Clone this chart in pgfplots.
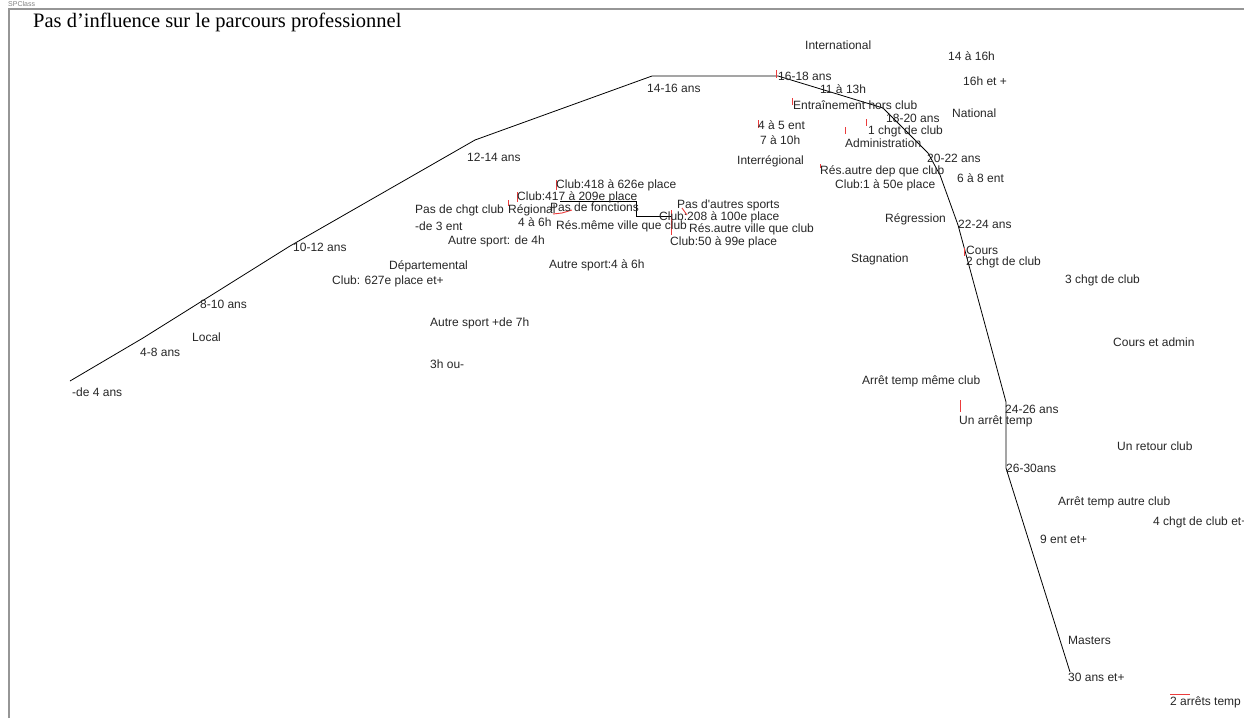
\documentclass[border=0pt]{standalone}
\usepackage{fontspec}
\setmainfont{Liberation Serif}
\newfontfamily\lab{Liberation Sans}
\usepackage{pgfplots}
\pgfplotsset{compat=1.18}
\definecolor{framegray}{RGB}{150,150,150}
\definecolor{tickred}{RGB}{235,60,60}
\begin{document}
\begin{tikzpicture}
\begin{axis}[
  scale only axis, width=1244pt, height=718pt,
  xmin=0, xmax=1244, ymin=0, ymax=718, y dir=reverse,
  axis lines=none, clip=false,
]
% window frame
\addplot[framegray, line width=2pt] coordinates {(9,718) (9,9) (1244,9)};
% age trajectory
\addplot[black, line width=0.8pt] coordinates {
 (70,381) (143,338) (290,246) (475,140) (652,76) (778,76) (883,108)
 (928,153) (940,175) (958,225) (1006,402) (1006,468) (1070,672)};
% small connecting box (club ranks)
\addplot[black, line width=0.7pt] coordinates {(560,201) (636,201) (636,216) (672,216)};
% red point ticks
\addplot[tickred, line width=0.9pt] coordinates {(776,70) (776,78)};
\addplot[tickred, line width=0.9pt] coordinates {(792,98) (792,105)};
\addplot[tickred, line width=0.9pt] coordinates {(758,120) (758,128)};
\addplot[tickred, line width=0.9pt] coordinates {(866,119) (866,126)};
\addplot[tickred, line width=0.9pt] coordinates {(845,127) (845,134)};
\addplot[tickred, line width=0.9pt] coordinates {(820,164) (820,168)};
\addplot[tickred, line width=0.9pt] coordinates {(556,180) (556,190)};
\addplot[tickred, line width=0.9pt] coordinates {(517,192) (517,202)};
\addplot[tickred, line width=0.9pt] coordinates {(508,200) (508,206)};
\addplot[tickred, line width=0.9pt] coordinates {(553,214) (562,213) (572,210)};
\addplot[tickred, line width=0.9pt] coordinates {(671,210) (671,235)};
\addplot[tickred, line width=0.9pt] coordinates {(682,208) (687,215)};
\addplot[tickred, line width=0.9pt] coordinates {(964,248) (964,256)};
\addplot[tickred, line width=0.9pt] coordinates {(960,400) (960,412)};
\addplot[tickred, line width=0.9pt] coordinates {(1170,694) (1190,694)};
% labels
\addplot[draw=none, nodes near coords, point meta=explicit symbolic,
  every node near coord/.append style={font=\lab\fontsize{12}{12}\selectfont, anchor=west, inner sep=0pt, text=black!85}]
  table[col sep=semicolon, row sep=\\, x=x, y=y, meta=l] {
x;y;l\\
805;45;International\\
948;56;14 à 16h\\
778;76;16-18 ans\\
963;81;16h et +\\
820;89;11 à 13h\\
793;105;Entraînement hors club\\
886;118;18-20 ans\\
952;113;National\\
758;125;4 à 5 ent\\
868;131;1 chgt de club\\
760;140;7 à 10h\\
845;143;Administration\\
737;161;Interrégional\\
927;158;20-22 ans\\
820;171;Rés.autre dep que club\\
957;178;6 à 8 ent\\
835;185;Club:1 à 50e place\\
556;185;Club:418 à 626e place\\
517;197;Club:417 à 209e place\\
415;210;Pas de chgt club\\
508;210;Régional\\
550;207;Pas de fonctions\\
677;205;Pas d'autres sports\\
659;217;Club:208 à 100e place\\
415;226;-de 3 ent\\
518;222;4 à 6h\\
556;226;Rés.même ville que club\\
689;229;Rés.autre ville que club\\
885;219;Régression\\
958;224;22-24 ans\\
448;241;Autre sport: de 4h\\
670;242;Club:50 à 99e place\\
293;247;10-12 ans\\
966;250;Cours\\
966;262;2 chgt de club\\
851;259;Stagnation\\
389;266;Départemental\\
549;265;Autre sport:4 à 6h\\
332;281;Club: 627e place et+\\
1065;280;3 chgt de club\\
200;304;8-10 ans\\
430;323;Autre sport +de 7h\\
192;337;Local\\
1113;342;Cours et admin\\
140;352;4-8 ans\\
430;364;3h ou-\\
72;392;-de 4 ans\\
862;381;Arrêt temp même club\\
1005;409;24-26 ans\\
959;421;Un arrêt temp\\
1117;446;Un retour club\\
1006;468;26-30ans\\
1058;502;Arrêt temp autre club\\
1153;522;4 chgt de club et+\\
1040;539;9 ent et+\\
1068;640;Masters\\
1068;677;30 ans et+\\
1170;702;2 arrêts temp\\
467;157;12-14 ans\\
647;88;14-16 ans\\
};
% title
\addplot[draw=none, nodes near coords, point meta=explicit symbolic,
  every node near coord/.append style={font=\fontsize{20.5}{20.5}\selectfont, anchor=west, inner sep=0pt}]
  table[col sep=semicolon, row sep=\\, x=x, y=y, meta=l] {
x;y;l\\
33;22;Pas d'influence sur le parcours professionnel\\
};
% window caption
\addplot[draw=none, nodes near coords, point meta=explicit symbolic,
  every node near coord/.append style={font=\lab\fontsize{7}{7}\selectfont, anchor=west, inner sep=0pt, text=gray}]
  table[col sep=semicolon, row sep=\\, x=x, y=y, meta=l] {
x;y;l\\
8;4;SPClass\\
};
\end{axis}
\pgfresetboundingbox
\path (current axis.south west) rectangle (current axis.north east);
\end{tikzpicture}
\end{document}
